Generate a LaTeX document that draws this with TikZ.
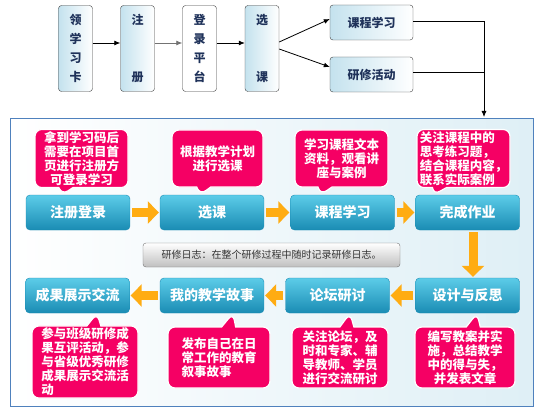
\documentclass[tikz,border=0pt]{standalone}
\usepackage{fontspec}
\setmainfont{Noto Sans CJK SC}
\usetikzlibrary{shapes.callouts,arrows.meta}
\definecolor{navy}{RGB}{31,50,90}
\definecolor{cardblue}{RGB}{196,226,238}
\definecolor{stagetop}{RGB}{92,204,232}
\definecolor{stagebot}{RGB}{26,140,180}
\definecolor{hotpink}{RGB}{245,0,100}
\definecolor{amber}{RGB}{255,172,18}
\definecolor{rim}{RGB}{79,129,189}
\begin{document}
\begin{tikzpicture}[x=1pt,y=-1pt,
	card/.style={draw=black!75,rounded corners=3pt,left color=cardblue,right color=white,minimum width=34,minimum height=86,inner sep=0pt,align=center,text=navy,font=\fontsize{12}{19}\selectfont\bfseries},
	link/.style={-{Latex[length=6pt,width=5pt]},thick},
	stage/.style={draw=stagebot,rounded corners=4pt,top color=stagetop,bottom color=stagebot,minimum width=104,minimum height=35,text=white,font=\fontsize{14}{16}\selectfont\bfseries},
	bubble/.style={rectangle callout,fill=hotpink,draw=white,line width=1.2pt,rounded corners=7pt,callout pointer width=14pt,inner sep=2pt,text=white,font=\fontsize{12.5}{14}\selectfont\bfseries},
	flow/.style={draw=amber,line width=9pt,-{Triangle[length=11pt,width=22pt]},shorten <=2pt,shorten >=1pt},
	logbox/.style={draw=black!55,rounded corners=3pt,top color=white,bottom color=black!25,minimum width=257,minimum height=24,text=black!80,font=\fontsize{10}{12}\selectfont}]
	\useasboundingbox (0,0) rectangle (540,414);
	% top row
	\node[card] (k1) at (75.5,48.5) {领\\学\\习\\卡};
	\node[card] (k2) at (137.5,48.5) {注\\ \\ \\册};
	\node[card,left color=white] (k3) at (199.5,48.5) {登\\录\\平\\台};
	\node[card] (k4) at (262,48.5) {选\\ \\ \\课};
	\node[card,minimum width=83,minimum height=35] (k5) at (371.5,22.5) {课程学习};
	\node[card,minimum width=83,minimum height=35] (k6) at (371.5,74.5) {研修活动};
	\coordinate (drop) at (484,117);
	\draw[link] ([yshift=5.5pt]k1.east) -- ([yshift=5.5pt]k2.west);
	\draw[link,black!55] ([yshift=5.5pt]k2.east) -- ([yshift=5.5pt]k3.west);
	\draw[link] ([yshift=5.5pt]k3.east) -- ([yshift=5.5pt]k4.west);
	\draw[link] ([yshift=6.5pt]k4.east) -- ([yshift=3.5pt]k5.west);
	\draw[link] ([yshift=-0.5pt]k4.east) -- ([yshift=7.5pt]k6.west);
	\draw[thick] ([yshift=2.5pt]k6.east) -- ([yshift=2.5pt]k6.east -| drop);
	\draw[link] ([yshift=1.5pt]k5.east) -| (drop);
	% panel
	\node[draw=rim,line width=1pt,left color=white,right color=cardblue!55,minimum width=523,minimum height=287] (panel) at (271.5,262.5) {};
	\node[stage] (s1) at (78,212.5) {注册登录};
	\node[stage] (s2) at (212,212.5) {选课};
	\node[stage] (s3) at (342.5,212.5) {课程学习};
	\node[stage] (s4) at (467.5,212.5) {完成作业};
	\node[stage] (r1) at (77.5,295.5) {成果展示交流};
	\node[stage] (r2) at (212,295.5) {我的教学故事};
	\node[stage] (r3) at (337.5,295.5) {论坛研讨};
	\node[stage] (r4) at (467.5,295.5) {设计与反思};
	\node[logbox] (log) at (271.5,255) {研修日志：在整个研修过程中随时记录研修日志。};
	\draw[flow] (s1) -- (s2);
	\draw[flow] (s2) -- (s3);
	\draw[flow] (s3) -- (s4);
	\draw[flow] ([xshift=5.5pt]s4.south) -- ([xshift=5.5pt]r4.north);
	\draw[flow] (r4) -- (r3);
	\draw[flow] (r3) -- (r2);
	\draw[flow] (r2) -- (r1);
	% notes
	\node[bubble,minimum width=93,minimum height=57,align=center,callout absolute pointer={([xshift=-16pt]s1.north)}] (n1) at (81.5,158.5) {拿到学习码后\\需要在项目首\\页进行注册方\\可登录学习};
	\node[bubble,minimum width=91,minimum height=57,align=center,callout absolute pointer={([xshift=-12pt]s2.north)}] (n2) at (217.5,158.5) {根据教学计划\\进行选课};
	\node[bubble,minimum width=93,minimum height=57,align=center,callout absolute pointer={([xshift=-22pt]s3.north)}] (n3) at (341.5,158.5) {学习课程文本\\资料，观看讲\\座与案例};
	\node[bubble,minimum width=93,minimum height=57,align=left,callout absolute pointer={([xshift=-34pt]s4.north)}] (n4) at (463.5,158.5) {关注课程中的\\思考练习题，\\结合课程内容，\\联系实际案例};
	\node[bubble,minimum width=106,minimum height=70,align=left,callout absolute pointer={([xshift=19.5pt]r1.south)}] (n5) at (85,362) {参与班级研修成\\果互评活动，参\\与省级优秀研修\\成果展示交流活\\动};
	\node[bubble,minimum width=102,minimum height=61,align=left,callout absolute pointer={([xshift=21pt]r2.south)}] (n6) at (219,357.5) {发布自己在日\\常工作的教育\\叙事故事};
	\node[bubble,minimum width=96,minimum height=61,align=left,callout absolute pointer={([xshift=12.5pt]r3.south)}] (n7) at (340,357.5) {关注论坛，及\\时和专家、辅\\导教师、学员\\进行交流研讨};
	\node[bubble,minimum width=100,minimum height=61,align=center,callout absolute pointer={([xshift=9.5pt]r4.south)}] (n8) at (465,357.5) {编写教案并实\\施，总结教学\\中的得与失，\\并发表文章};
\end{tikzpicture}
\end{document}
